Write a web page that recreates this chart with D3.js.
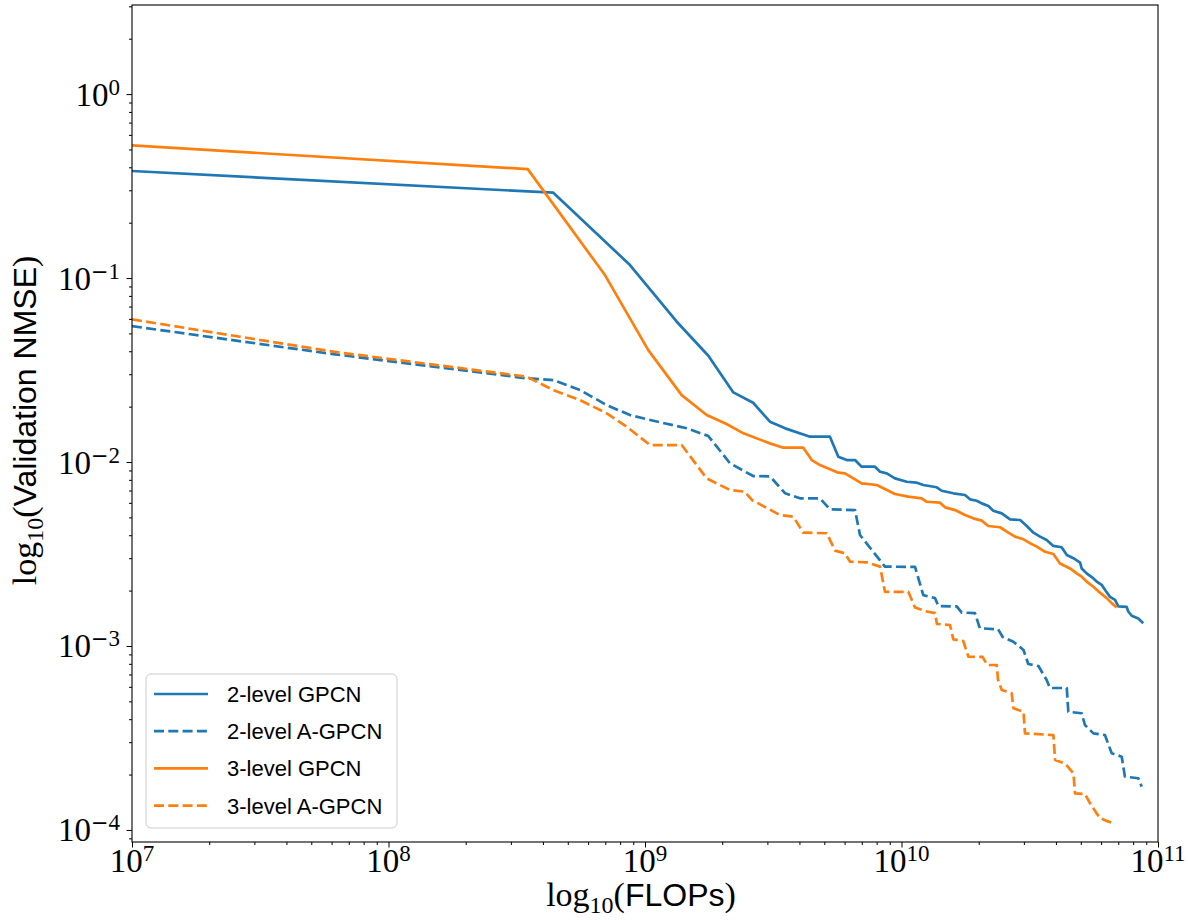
<!DOCTYPE html>
<html><head><meta charset="utf-8">
<script src="https://cdn.jsdelivr.net/npm/d3@7"></script>
<style>body{margin:0;background:#fff}</style>
</head><body>
<svg id="chart" width="1188" height="920"></svg>
<script>
// ---- data ----
const xTickExps = [7, 8, 9, 10, 11];
const yTickExps = [0, -1, -2, -3, -4];
const seriesNames = ["2-level GPCN", "2-level A-GPCN", "3-level GPCN", "3-level A-GPCN"];

const flops2GPCN = [1e7, 4.39e8, 8.74e8, 1.33e9, 1.766e9, 2.21e9, 2.64e9, 3.07e9, 3.52e9, 4.40e9, 5.26e9, 5.67e9, 6.12e9, 6.59e9, 6.99e9, 7.88e9, 8.25e9, 8.76e9, 9.43e9, 1.048e10, 1.147e10, 1.216e10, 1.372e10, 1.434e10, 1.592e10, 1.768e10, 1.850e10, 1.964e10, 2.055e10, 2.18e10, 2.28e10, 2.46e10, 2.65e10, 2.90e10, 3.08e10, 3.27e10, 3.47e10, 3.68e10, 3.91e10, 4.21e10, 4.41e10, 4.68e10, 4.97e10, 5.04e10, 5.27e10, 5.60e10, 5.77e10, 6.03e10, 6.21e10, 6.50e10, 6.80e10, 7.00e10, 7.55e10, 7.66e10, 7.90e10, 8.38e10, 8.76e10];
const nmse2GPCN = [0.382, 0.291, 0.1177, 0.0579, 0.0378, 0.0239, 0.0210, 0.01656, 0.01524, 0.01373, 0.01373, 0.01069, 0.01025, 0.01025, 0.00943, 0.00943, 0.00886, 0.00868, 0.00815, 0.00781, 0.00772, 0.00750, 0.00729, 0.00698, 0.00676, 0.00662, 0.00627, 0.00616, 0.00596, 0.00577, 0.00544, 0.00526, 0.00488, 0.00484, 0.00449, 0.00413, 0.00393, 0.00377, 0.00350, 0.00344, 0.00312, 0.00300, 0.00284, 0.00264, 0.00248, 0.00233, 0.00224, 0.00215, 0.00202, 0.00185, 0.00178, 0.00164, 0.00163, 0.00154, 0.00146, 0.00141, 0.00133];

const flops2AGPCN = [1e7, 6.08e7, 3.47e8, 4.39e8, 5.58e8, 7.09e8, 8.74e8, 1.078e9, 1.454e9, 1.766e9, 2.145e9, 2.64e9, 3.07e9, 3.52e9, 4.02e9, 4.81e9, 5.26e9, 6.59e9, 6.89e9, 7.76e9, 8.62e9, 1.129e10, 1.216e10, 1.351e10, 1.392e10, 1.642e10, 1.717e10, 1.934e10, 2.02e10, 2.38e10, 2.48e10, 2.73e10, 2.99e10, 3.12e10, 3.42e10, 3.68e10, 3.79e10, 4.41e10, 4.47e10, 5.04e10, 5.19e10, 5.60e10, 6.21e10, 6.60e10, 7.22e10, 7.43e10, 8.38e10, 8.64e10];
const nmse2AGPCN = [0.0548, 0.0386, 0.0285, 0.0279, 0.0246, 0.0204, 0.0180, 0.01677, 0.01525, 0.01384, 0.00984, 0.00839, 0.00836, 0.00676, 0.00635, 0.00635, 0.00553, 0.00548, 0.00401, 0.00325, 0.00270, 0.00269, 0.00189, 0.00182, 0.00165, 0.00164, 0.00152, 0.00151, 0.001248, 0.001233, 0.001119, 0.001055, 0.000951, 0.000798, 0.000778, 0.000653, 0.000591, 0.000591, 0.000439, 0.000431, 0.000372, 0.000335, 0.000328, 0.000261, 0.000250, 0.000195, 0.000191, 0.000172];

const flops3GPCN = [1e7, 3.49e8, 6.98e8, 1.030e9, 1.39e9, 1.74e9, 2.08e9, 2.42e9, 3.07e9, 3.46e9, 4.14e9, 4.47e9, 4.81e9, 5.35e9, 5.67e9, 6.02e9, 6.49e9, 6.99e9, 8.01e9, 8.50e9, 9.43e9, 1.063e10, 1.199e10, 1.254e10, 1.413e10, 1.478e10, 1.617e10, 1.768e10, 1.905e10, 2.055e10, 2.18e10, 2.42e10, 2.61e10, 2.77e10, 2.99e10, 3.17e10, 3.37e10, 3.63e10, 3.91e10, 4.15e10, 4.54e10, 4.82e10, 5.04e10, 5.27e10, 5.60e10, 5.94e10, 6.31e10, 6.60e10, 6.90e10];
const nmse3GPCN = [0.526, 0.391, 0.1038, 0.0406, 0.0231, 0.0180, 0.01609, 0.01432, 0.01263, 0.01196, 0.01196, 0.01025, 0.00963, 0.00905, 0.00875, 0.00868, 0.00815, 0.00766, 0.00750, 0.00720, 0.00670, 0.00648, 0.00635, 0.00608, 0.00601, 0.00567, 0.00548, 0.00515, 0.00494, 0.00480, 0.00449, 0.00442, 0.00413, 0.00393, 0.00380, 0.00362, 0.00347, 0.00325, 0.00316, 0.00281, 0.00264, 0.00248, 0.00238, 0.00224, 0.00210, 0.00195, 0.00182, 0.00171, 0.00162];

const flops3AGPCN = [1e7, 6.08e7, 3.46e8, 4.39e8, 5.58e8, 7.09e8, 8.49e8, 1.046e9, 1.39e9, 1.74e9, 2.145e9, 2.45e9, 2.61e9, 3.36e9, 3.79e9, 4.14e9, 5.11e9, 5.51e9, 6.02e9, 6.30e9, 7.32e9, 8.25e9, 8.62e9, 1.063e10, 1.129e10, 1.254e10, 1.351e10, 1.375e10, 1.546e10, 1.592e10, 1.741e10, 1.822e10, 2.07e10, 2.16e10, 2.35e10, 2.38e10, 2.46e10, 2.69e10, 2.73e10, 2.99e10, 3.03e10, 3.91e10, 3.97e10, 4.34e10, 4.68e10, 4.75e10, 5.19e10, 5.43e10, 5.77e10, 5.94e10, 6.31e10, 6.80e10];
const nmse3AGPCN = [0.0596, 0.0398, 0.0291, 0.0246, 0.0217, 0.0184, 0.01555, 0.01237, 0.01237, 0.00815, 0.00704, 0.00690, 0.00622, 0.00515, 0.00504, 0.00413, 0.00410, 0.00330, 0.00319, 0.00287, 0.00285, 0.00270, 0.00197, 0.00197, 0.00162, 0.00154, 0.00151, 0.001317, 0.00130, 0.001087, 0.001064, 0.000875, 0.000872, 0.000788, 0.000788, 0.000653, 0.000577, 0.000553, 0.000459, 0.000439, 0.000335, 0.000328, 0.000240, 0.000230, 0.000203, 0.000158, 0.000157, 0.000140, 0.000123, 0.000116, 0.000112, 0.000108];

const xDomain = [1e7, 1e11];
const yDomain = [8.6e-5, 3.05];

// ---- layout ----
const W = 1188, H = 920;
const plot = {left: 132, right: 1158, top: 5, bottom: 842};
const blue = "#1f77b4", orange = "#ff7f0e";
const serif = "'Liberation Serif', 'Times New Roman', serif";
const sans = "'Liberation Sans', Arial, sans-serif";

const svg = d3.select("#chart");
svg.append("rect").attr("width", W).attr("height", H).attr("fill", "#fff");

const x = d3.scaleLog().domain(xDomain).range([plot.left, plot.right]);
const y = d3.scaleLog().domain(yDomain).range([plot.bottom, plot.top]);

const series = [
  {name: seriesNames[0], xs: flops2GPCN, ys: nmse2GPCN, color: blue, dash: null},
  {name: seriesNames[1], xs: flops2AGPCN, ys: nmse2AGPCN, color: blue, dash: "10,4.3"},
  {name: seriesNames[2], xs: flops3GPCN, ys: nmse3GPCN, color: orange, dash: null},
  {name: seriesNames[3], xs: flops3AGPCN, ys: nmse3AGPCN, color: orange, dash: "10,4.3"}
];

// lines
const line = d3.line().x(d => x(d[0])).y(d => y(d[1]));
svg.append("clipPath").attr("id", "clip").append("rect")
  .attr("x", plot.left).attr("y", plot.top)
  .attr("width", plot.right - plot.left).attr("height", plot.bottom - plot.top);
const gLines = svg.append("g").attr("clip-path", "url(#clip)");
series.forEach(s => {
  gLines.append("path")
    .attr("d", line(d3.zip(s.xs, s.ys)))
    .attr("fill", "none")
    .attr("stroke", s.color)
    .attr("stroke-width", 2.7)
    .attr("stroke-linejoin", "round")
    .attr("stroke-dasharray", s.dash);
});

// ticks
const majorX = xTickExps.map(e => Math.pow(10, e));
const majorY = yTickExps.map(e => Math.pow(10, e));
const minorX = [], minorY = [];
for (let e = 7; e < 11; e++) for (let k = 2; k <= 9; k++) minorX.push(k * Math.pow(10, e));
for (let e = -5; e <= 0; e++) for (let k = 2; k <= 9; k++) {
  const v = k * Math.pow(10, e);
  if (v >= yDomain[0] && v <= yDomain[1]) minorY.push(v);
}

function styleAxis(g) {
  g.select(".domain").remove();
  g.selectAll(".tick line").attr("stroke", "#000").attr("stroke-width", 1);
  g.selectAll(".tick text").remove();
}
svg.append("g").attr("transform", `translate(0,${plot.bottom})`)
  .call(d3.axisBottom(x).tickValues(majorX).tickSize(5.5).tickFormat("")).call(styleAxis);
svg.append("g").attr("transform", `translate(0,${plot.bottom})`)
  .call(d3.axisBottom(x).tickValues(minorX).tickSize(3).tickFormat("")).call(styleAxis);
svg.append("g").attr("transform", `translate(${plot.left},0)`)
  .call(d3.axisLeft(y).tickValues(majorY).tickSize(5.5).tickFormat("")).call(styleAxis);
svg.append("g").attr("transform", `translate(${plot.left},0)`)
  .call(d3.axisLeft(y).tickValues(minorY).tickSize(3).tickFormat("")).call(styleAxis);

// frame
svg.append("rect").attr("x", plot.left).attr("y", plot.top)
  .attr("width", plot.right - plot.left).attr("height", plot.bottom - plot.top)
  .attr("fill", "none").attr("stroke", "#000").attr("stroke-width", 1.1);

// tick labels: 10^e
function powText(t, e) {
  t.append("tspan").text("10");
  const sup = t.append("tspan").attr("dy", -11).attr("font-size", 23);
  if (e < 0) {
    sup.append("tspan").attr("font-family", "'DejaVu Sans', sans-serif").attr("font-size", 21).text("\u2212");
    sup.append("tspan").text(String(-e));
  } else {
    sup.text(String(e));
  }
}
xTickExps.forEach(e => {
  const t = svg.append("text").attr("x", x(Math.pow(10, e))).attr("y", 872)
    .attr("text-anchor", "middle").attr("font-family", serif).attr("font-size", 33).attr("fill", "#000");
  powText(t, e);
});
yTickExps.forEach(e => {
  const t = svg.append("text").attr("x", 120).attr("y", y(Math.pow(10, e)) + 11.5)
    .attr("text-anchor", "end").attr("font-family", serif).attr("font-size", 33).attr("fill", "#000");
  powText(t, e);
});

// axis labels
function axisLabel(t, word) {
  t.append("tspan").attr("font-family", serif).text("log");
  t.append("tspan").attr("font-family", serif).attr("font-size", 24).attr("dy", 7).text("10");
  t.append("tspan").attr("font-family", serif).attr("dy", -7).text("(");
  t.append("tspan").attr("font-family", sans).attr("font-size", 32).text(word);
  t.append("tspan").attr("font-family", serif).text(")");
}
axisLabel(svg.append("text").attr("x", 641).attr("y", 906)
  .attr("text-anchor", "middle").attr("font-size", 34).attr("fill", "#000"), "FLOPs");
axisLabel(svg.append("text").attr("transform", `translate(36,${(plot.top + plot.bottom) / 2 - 3}) rotate(-90)`)
  .attr("text-anchor", "middle").attr("font-size", 34).attr("fill", "#000"), "Validation NMSE");

// legend
const lg = svg.append("g");
lg.append("rect").attr("x", 146).attr("y", 674).attr("width", 251).attr("height", 154)
  .attr("rx", 5).attr("fill", "#fff").attr("fill-opacity", 0.8)
  .attr("stroke", "#cccccc").attr("stroke-width", 1);
series.forEach((s, i) => {
  const ly = 694 + i * 37.2;
  lg.append("line").attr("x1", 154).attr("x2", 208).attr("y1", ly).attr("y2", ly)
    .attr("stroke", s.color).attr("stroke-width", 2.7).attr("stroke-dasharray", s.dash);
  lg.append("text").attr("x", 227).attr("y", ly + 8).attr("font-family", sans)
    .attr("font-size", 22).attr("fill", "#000").text(s.name);
});
</script>
</body></html>
